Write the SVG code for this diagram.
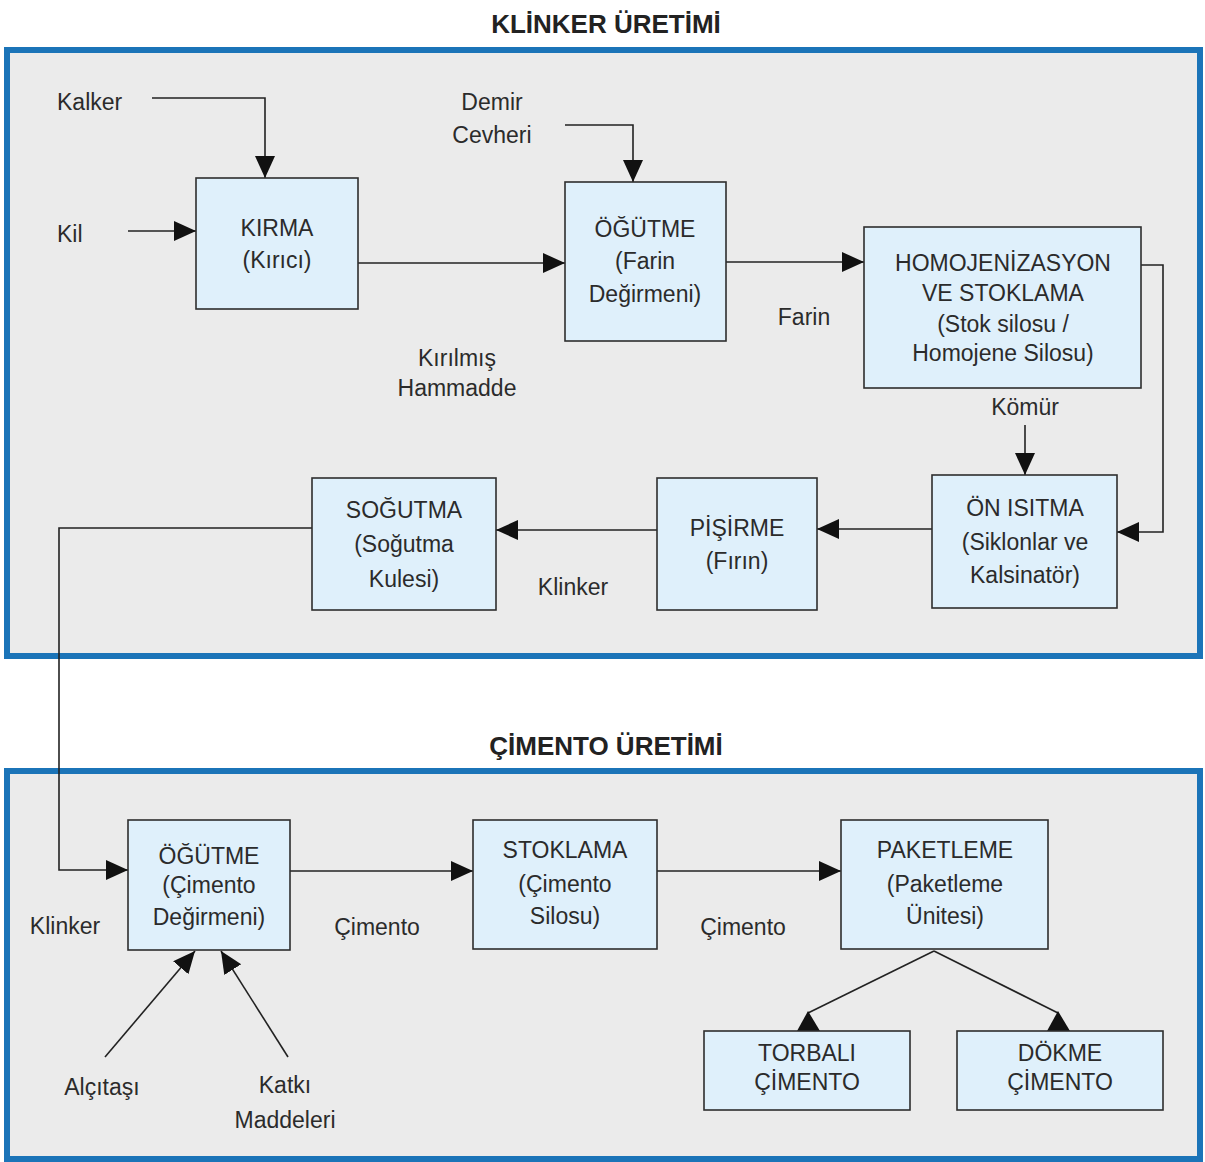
<svg xmlns="http://www.w3.org/2000/svg" width="1205" height="1162" viewBox="0 0 1205 1162">
<style>
.panel{fill:#ebebeb;stroke:#1b74b8;stroke-width:6}
.box{fill:#dff0fb;stroke:#2e2e2e;stroke-width:1.6}
.title{font-family:"Liberation Sans",Arial,sans-serif;font-weight:bold;font-size:26px;fill:#222;text-anchor:middle}
.t{font-family:"Liberation Sans",Arial,sans-serif;font-size:23px;fill:#2b2b2b;text-anchor:middle}
.ts{font-family:"Liberation Sans",Arial,sans-serif;font-size:23px;fill:#2b2b2b;text-anchor:start}
.ln{fill:none;stroke:#222;stroke-width:1.6}
.head{fill:#111}
</style>
<defs>
<marker id="ah" markerUnits="userSpaceOnUse" markerWidth="24" markerHeight="22" refX="22" refY="10" orient="auto">
<path d="M0,0 L22,10 L0,20 z" fill="#111"/>
</marker>
</defs>
<rect width="1205" height="1162" fill="#ffffff"/>
<text class="title" x="606" y="33">KLİNKER ÜRETİMİ</text>
<rect class="panel" x="7" y="50" width="1193" height="606"/>
<text class="title" x="606" y="755">ÇİMENTO ÜRETİMİ</text>
<rect class="panel" x="7" y="771" width="1193" height="388"/>

<g id="connectors">
<path class="ln" d="M152,98 H265 V178" marker-end="url(#ah)"/>
<path class="ln" d="M128,231 H196" marker-end="url(#ah)"/>
<path class="ln" d="M565,125 H633 V182" marker-end="url(#ah)"/>
<path class="ln" d="M358,263 H565" marker-end="url(#ah)"/>
<path class="ln" d="M726,262 H864" marker-end="url(#ah)"/>
<path class="ln" d="M1141,265 H1163 V532 H1117" marker-end="url(#ah)"/>
<path class="ln" d="M1025,425 V475" marker-end="url(#ah)"/>
<path class="ln" d="M932,529 H817" marker-end="url(#ah)"/>
<path class="ln" d="M657,530 H496" marker-end="url(#ah)"/>
<path class="ln" d="M312,528 H59 V870 H128" marker-end="url(#ah)"/>
<path class="ln" d="M290,871 H473" marker-end="url(#ah)"/>
<path class="ln" d="M657,871 H841" marker-end="url(#ah)"/>
<path class="ln" d="M105,1057 L195,951" marker-end="url(#ah)"/>
<path class="ln" d="M288,1057 L221,951" marker-end="url(#ah)"/>
<path class="ln" d="M934,951 L808,1013"/>
<path class="ln" d="M934,951 L1058,1013"/>
<polygon class="head" points="808,1011 797,1031 820,1031"/>
<polygon class="head" points="1058,1011 1047,1031 1070,1031"/>
</g>

<g id="labels">
<text class="ts" x="57" y="110">Kalker</text>
<text class="ts" x="57" y="242">Kil</text>
<text class="t" x="492" y="110">Demir</text>
<text class="t" x="492" y="143">Cevheri</text>
<text class="t" x="457" y="366">Kırılmış</text>
<text class="t" x="457" y="396">Hammadde</text>
<text class="t" x="804" y="325">Farin</text>
<text class="t" x="1025" y="415">Kömür</text>
<text class="t" x="573" y="595">Klinker</text>
<text class="t" x="65" y="934">Klinker</text>
<text class="t" x="377" y="935">Çimento</text>
<text class="t" x="743" y="935">Çimento</text>
<text class="t" x="102" y="1095">Alçıtaşı</text>
<text class="t" x="285" y="1093">Katkı</text>
<text class="t" x="285" y="1128">Maddeleri</text>
</g>

<g id="kirma">
<rect class="box" x="196" y="178" width="162" height="131"/>
<text class="t" x="277" y="236">KIRMA</text>
<text class="t" x="277" y="268">(Kırıcı)</text>
</g>
<g id="ogutme-farin">
<rect class="box" x="565" y="182" width="161" height="159"/>
<text class="t" x="645" y="237">ÖĞÜTME</text>
<text class="t" x="645" y="269">(Farin</text>
<text class="t" x="645" y="302">Değirmeni)</text>
</g>
<g id="homojenizasyon">
<rect class="box" x="864" y="227" width="277" height="161"/>
<text class="t" x="1003" y="271">HOMOJENİZASYON</text>
<text class="t" x="1003" y="301">VE STOKLAMA</text>
<text class="t" x="1003" y="332">(Stok silosu /</text>
<text class="t" x="1003" y="361">Homojene Silosu)</text>
</g>
<g id="on-isitma">
<rect class="box" x="932" y="475" width="185" height="133"/>
<text class="t" x="1025" y="516">ÖN ISITMA</text>
<text class="t" x="1025" y="550">(Siklonlar ve</text>
<text class="t" x="1025" y="583">Kalsinatör)</text>
</g>
<g id="pisirme">
<rect class="box" x="657" y="478" width="160" height="132"/>
<text class="t" x="737" y="536">PİŞİRME</text>
<text class="t" x="737" y="569">(Fırın)</text>
</g>
<g id="sogutma">
<rect class="box" x="312" y="478" width="184" height="132"/>
<text class="t" x="404" y="518">SOĞUTMA</text>
<text class="t" x="404" y="552">(Soğutma</text>
<text class="t" x="404" y="587">Kulesi)</text>
</g>
<g id="ogutme-cimento">
<rect class="box" x="128" y="820" width="162" height="130"/>
<text class="t" x="209" y="864">ÖĞÜTME</text>
<text class="t" x="209" y="893">(Çimento</text>
<text class="t" x="209" y="925">Değirmeni)</text>
</g>
<g id="stoklama">
<rect class="box" x="473" y="820" width="184" height="129"/>
<text class="t" x="565" y="858">STOKLAMA</text>
<text class="t" x="565" y="892">(Çimento</text>
<text class="t" x="565" y="924">Silosu)</text>
</g>
<g id="paketleme">
<rect class="box" x="841" y="820" width="207" height="129"/>
<text class="t" x="945" y="858">PAKETLEME</text>
<text class="t" x="945" y="892">(Paketleme</text>
<text class="t" x="945" y="924">Ünitesi)</text>
</g>
<g id="torbali">
<rect class="box" x="704" y="1031" width="206" height="79"/>
<text class="t" x="807" y="1061">TORBALI</text>
<text class="t" x="807" y="1090">ÇİMENTO</text>
</g>
<g id="dokme">
<rect class="box" x="957" y="1031" width="206" height="79"/>
<text class="t" x="1060" y="1061">DÖKME</text>
<text class="t" x="1060" y="1090">ÇİMENTO</text>
</g>
</svg>
